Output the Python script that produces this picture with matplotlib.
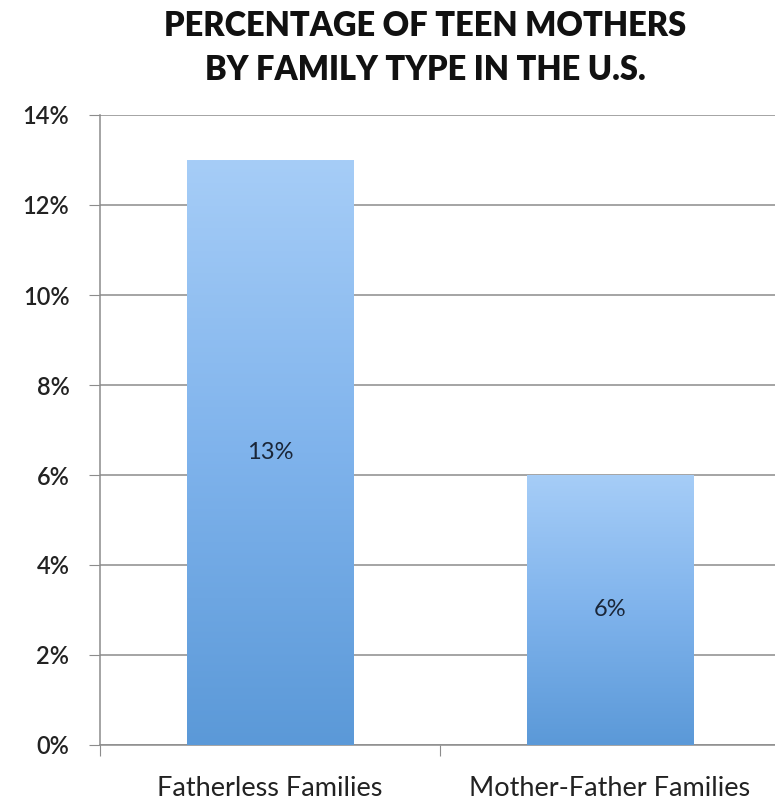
import matplotlib
matplotlib.use("Agg")
import matplotlib.pyplot as plt
import numpy as np
from matplotlib.colors import LinearSegmentedColormap

categories = ["Fatherless Families", "Mother-Father Families"]
values = [13, 6]
labels = ["13%", "6%"]
yticks = [0, 2, 4, 6, 8, 10, 12, 14]
ytick_labels = ["0%", "2%", "4%", "6%", "8%", "10%", "12%", "14%"]
title = "PERCENTAGE OF TEEN MOTHERS\nBY FAMILY TYPE IN THE U.S."

plt.rcParams['font.family'] = ['Lato', 'DejaVu Sans']

fig = plt.figure(figsize=(7.75, 8.01), dpi=100)
ax = fig.add_axes([100/775, 1-745/801, 680/775, (745-115)/801])

x = np.arange(len(categories))
bars = ax.bar(x, values, width=0.49, color="#7fb2ea", zorder=2)

cmap = LinearSegmentedColormap.from_list("g", ["#5b99d8", "#7fb3ec", "#a6cdf7"])
grad = np.linspace(0, 1, 256).reshape(-1, 1)
for b in bars:
    x0, y0 = b.get_x(), b.get_y()
    w, h = b.get_width(), b.get_height()
    im = ax.imshow(grad, cmap=cmap, origin="lower", aspect="auto",
                   extent=[x0, x0 + w, y0, y0 + h], zorder=3)
    im.set_clip_path(b)
    b.set_alpha(0)

for xi, v, lab in zip(x, values, labels):
    ax.text(xi, v / 2, lab, ha="center", va="center", fontsize=17,
            color="#1a2638", zorder=4)

ax.set_xlim(-0.5, 1.5)
ax.set_ylim(0, 14)
ax.set_yticks(yticks)
ax.set_yticklabels(ytick_labels, fontsize=17, fontweight="semibold", color="#222222")
ax.yaxis.grid(True, color="#8c8c8c", linewidth=1.1, zorder=1)
ax.set_axisbelow(True)

ax.set_xticks([-0.5, 0.5, 1.5])
ax.set_xticklabels([])
ax.set_xticks(x, minor=True)
ax.set_xticklabels(categories, minor=True, fontsize=19.5, color="#222222")
ax.tick_params(axis="x", which="minor", length=0, pad=22)
ax.tick_params(axis="x", which="major", length=8, color="#8c8c8c", direction="out")
ax.tick_params(axis="y", length=8, color="#8c8c8c", direction="out", pad=14)

for s in ["top", "right"]:
    ax.spines[s].set_visible(False)
for s in ["left", "bottom"]:
    ax.spines[s].set_color("#8c8c8c")
    ax.spines[s].set_linewidth(1.1)

fig.text(425/775, 1 - 48/801, title, ha="center", va="center", fontsize=23.5,
         fontweight="heavy", color="#111111", linespacing=1.5)

fig.savefig("out.png", dpi=100)
